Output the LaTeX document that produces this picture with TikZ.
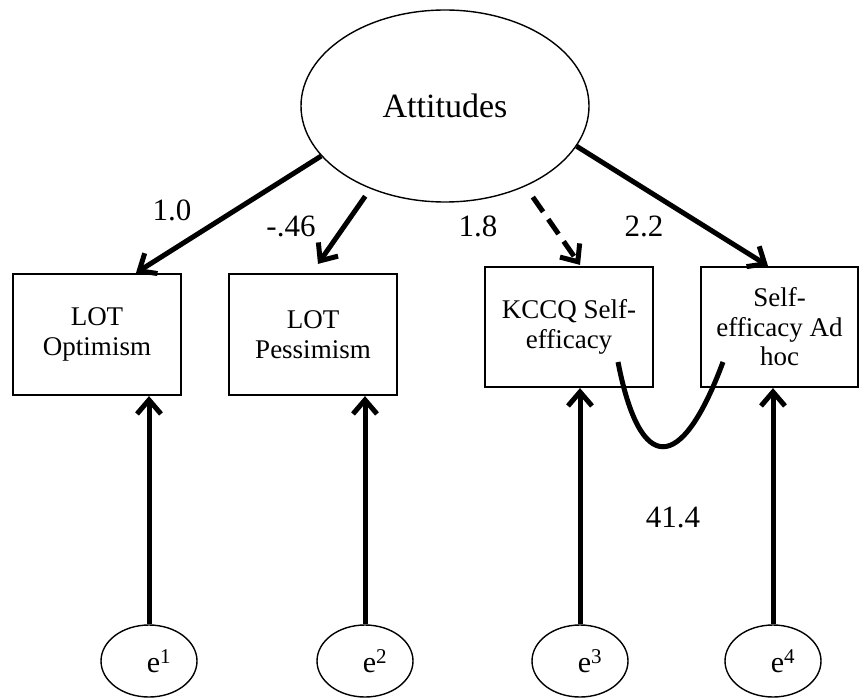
\documentclass[tikz,border=0pt]{standalone}
\usepackage{fontspec}
\setmainfont{Liberation Serif}
\usetikzlibrary{arrows.meta,shapes.geometric}
\begin{document}
\begin{tikzpicture}[x=1pt,y=-1pt,
  latent/.style={ellipse,draw,line width=1.4pt,inner sep=0pt},
  errnode/.style={ellipse,draw,line width=1.4pt,inner sep=0pt,
    minimum width=96pt,minimum height=72pt,font=\fontsize{30}{32}\selectfont},
  obs/.style={rectangle,draw,line width=2.2pt,inner sep=0pt,
    minimum width=168pt,align=center,font=\fontsize{27}{29.5}\selectfont},
  loading/.style={line width=5pt,-{Straight Barb[length=14pt,width=24pt]}},
  coef/.style={font=\fontsize{31}{33}\selectfont,inner sep=0pt}]
\useasboundingbox (0,0) rectangle (859,698);

% latent factor
\node[latent,minimum width=288pt,minimum height=192pt,
      font=\fontsize{34}{36}\selectfont] (att) at (445,106) {Attitudes};

% observed indicators
\node[obs,minimum height=121pt] (lot1) at (97,334.5) {LOT\\Optimism};
\node[obs,minimum height=121pt] (lot2) at (313,334.5) {LOT\\Pessimism};
\node[obs,minimum height=120pt] (kccq) at (569,327) {KCCQ Self-\\efficacy};
\node[obs,minimum width=157pt,minimum height=120pt] (adhoc) at (779.5,327)
  {Self-\\efficacy Ad\\hoc};

% error terms
\node[errnode] (e1) at (149,661) {\hspace*{20pt}e\textsuperscript{1}};
\node[errnode] (e2) at (365,661) {\hspace*{20pt}e\textsuperscript{2}};
\node[errnode] (e3) at (580,661) {\hspace*{20pt}e\textsuperscript{3}};
\node[errnode] (e4) at (773,661) {\hspace*{20pt}e\textsuperscript{4}};

% factor loadings
\draw[loading] (att.202) -- ([xshift=39pt]lot1.north);
\draw[loading,shorten <=9pt] (att.228) -- ([xshift=5pt,yshift=9pt]lot2.north);
\draw[loading,shorten <=13pt,dash pattern=on 18pt off 9pt]
  (att.315) -- ([xshift=11pt,yshift=1pt]kccq.north);
\draw[loading] (att.343) -- ([xshift=-11.5pt]adhoc.north);

% error paths
\draw[loading] (e1.north) -- (e1.north |- lot1.south);
\draw[loading] (e2.north) -- (e2.north |- lot2.south);
\draw[loading] (e3.north) -- (e3.north |- kccq.south);
\draw[loading] (e4.north) -- (e4.north |- adhoc.south);

% correlated residuals
\coordinate (cs) at (618,362);
\coordinate (ce) at (723,362);
\draw[line width=5pt] (cs) .. controls (640,475) and (681,475) .. (ce);

% coefficients
\node[coef] (c1) at (172,210) {1.0};
\node[coef] (c2) at (291,226) {-.46};
\node[coef] (c3) at (478,226) {1.8};
\node[coef] (c4) at (644,226) {2.2};
\node[coef] (c5) at (673,517) {41.4};
\end{tikzpicture}
\end{document}
